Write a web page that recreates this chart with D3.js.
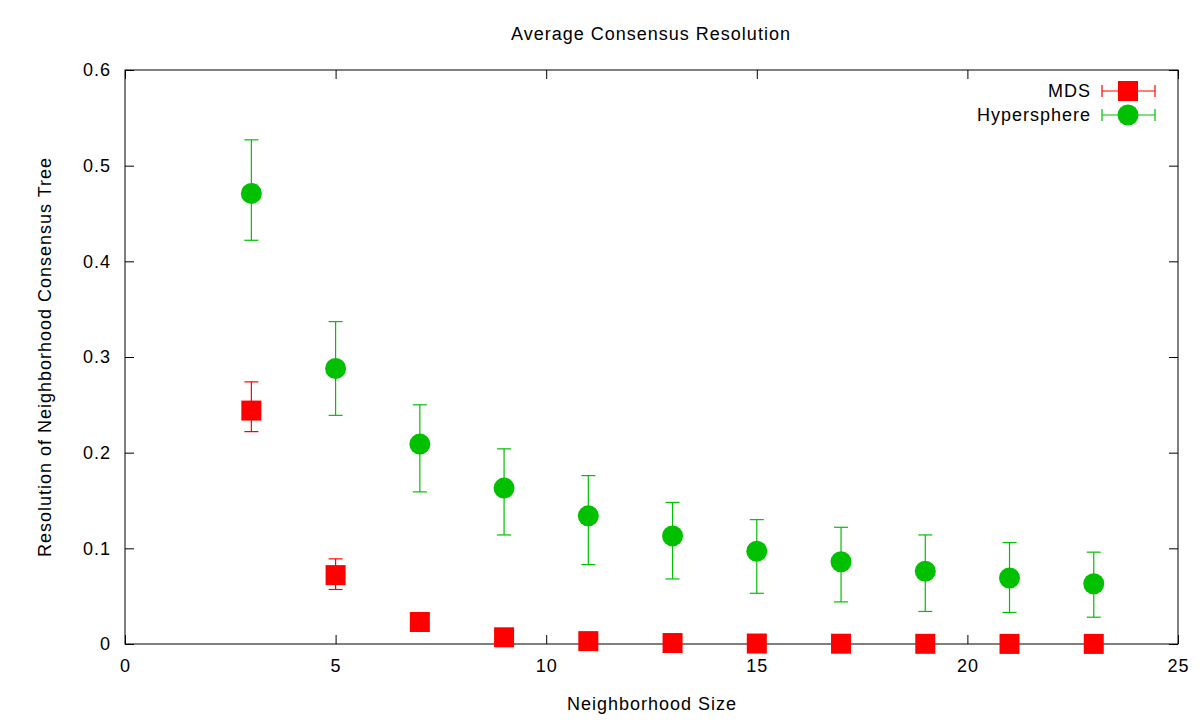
<!DOCTYPE html>
<html><head><meta charset="utf-8">
<script src="https://cdn.jsdelivr.net/npm/d3@7"></script>
<style>body{margin:0;background:#fff}svg{display:block;font-family:"Liberation Sans",Arial,sans-serif}text{letter-spacing:1px}</style>
</head><body>
<svg id="c" width="1200" height="720"></svg>
<script>
const sizes = [3,5,7,9,11,13,15,17,19,21,23];
const mdsMean = [0.244,0.072,0.023,0.007,0.003,0.001,0.0005,0.0003,0.0002,0.0001,0.0001];
const mdsLow  = [0.222,0.057,0.019,0.005,0.002,0.0005,0.0002,0.0001,0.0001,0.0,0.0];
const mdsHigh = [0.274,0.089,0.028,0.009,0.004,0.0015,0.0008,0.0005,0.0003,0.0002,0.0002];
const hypMean = [0.471,0.288,0.209,0.163,0.134,0.113,0.097,0.086,0.076,0.069,0.063];
const hypLow  = [0.422,0.239,0.159,0.114,0.083,0.068,0.053,0.044,0.034,0.033,0.028];
const hypHigh = [0.527,0.337,0.250,0.204,0.176,0.148,0.130,0.122,0.114,0.106,0.096];
const xTicks = [0,5,10,15,20,25];
const yTicks = [0,0.1,0.2,0.3,0.4,0.5,0.6];

const svg = d3.select("#c");
const L=125,R=1178,T=70,B=644;
const x = d3.scaleLinear().domain([0,25]).range([L,R]);
const y = d3.scaleLinear().domain([0,0.6]).range([B,T]);
const FS=18;

// frame
svg.append("rect").attr("x",L).attr("y",T).attr("width",R-L).attr("height",B-T)
  .attr("fill","none").attr("stroke","#000").attr("stroke-width",1);

// axes with inward ticks
const tl=9;
svg.append("g").attr("transform",`translate(0,${B})`)
  .call(d3.axisBottom(x).tickValues(xTicks).tickFormat(d3.format("d")).tickSizeInner(-tl).tickSizeOuter(0).tickPadding(15))
  .call(g=>g.select(".domain").remove());
svg.append("g").attr("transform",`translate(0,${T})`)
  .call(d3.axisTop(x).tickValues(xTicks).tickFormat("").tickSizeInner(-tl).tickSizeOuter(0))
  .call(g=>g.select(".domain").remove());
svg.append("g").attr("transform",`translate(${L},0)`)
  .call(d3.axisLeft(y).tickValues(yTicks).tickFormat(d=>d===0?"0":d3.format(".1f")(d)).tickSizeInner(-tl).tickSizeOuter(0).tickPadding(14))
  .call(g=>g.select(".domain").remove());
svg.append("g").attr("transform",`translate(${R},0)`)
  .call(d3.axisRight(y).tickValues(yTicks).tickFormat("").tickSizeInner(-tl).tickSizeOuter(0))
  .call(g=>g.select(".domain").remove());
svg.selectAll(".tick text").attr("font-size",FS).attr("fill","#000").attr("font-family","Liberation Sans, Arial, sans-serif");
svg.selectAll(".tick line").attr("stroke","#000");

// titles
svg.append("text").attr("x",651).attr("y",40).attr("text-anchor","middle").attr("font-size",FS).text("Average Consensus Resolution");
svg.append("text").attr("x",652).attr("y",710).attr("text-anchor","middle").attr("font-size",FS).text("Neighborhood Size");
svg.append("text").attr("transform",`translate(51,${(T+B)/2}) rotate(-90)`).attr("text-anchor","middle").attr("font-size",FS).text("Resolution of Neighborhood Consensus Tree");

const cap=7;
function errbars(mean,low,high,color){
  const g=svg.append("g").attr("stroke",color).attr("stroke-width",1.2);
  sizes.forEach((s,i)=>{
    const cx=x(s);
    g.append("line").attr("x1",cx).attr("x2",cx).attr("y1",y(low[i])).attr("y2",y(high[i]));
    g.append("line").attr("x1",cx-cap).attr("x2",cx+cap).attr("y1",y(low[i])).attr("y2",y(low[i]));
    g.append("line").attr("x1",cx-cap).attr("x2",cx+cap).attr("y1",y(high[i])).attr("y2",y(high[i]));
  });
}
errbars(mdsMean,mdsLow,mdsHigh,"#ff0000");
errbars(hypMean,hypLow,hypHigh,"#00c000");

const sq=20, r=10.5;
svg.append("g").selectAll("rect").data(sizes).join("rect")
  .attr("x",(d)=>x(d)-sq/2).attr("y",(d,i)=>y(mdsMean[i])-sq/2)
  .attr("width",sq).attr("height",sq).attr("fill","#ff0000");
svg.append("g").selectAll("circle").data(sizes).join("circle")
  .attr("cx",d=>x(d)).attr("cy",(d,i)=>y(hypMean[i])).attr("r",r).attr("fill","#00c000");

// legend
const leg=[{n:"MDS",c:"#ff0000",t:"sq",y:91},{n:"Hypersphere",c:"#00c000",t:"ci",y:115}];
leg.forEach(l=>{
  svg.append("text").attr("x",1091).attr("y",l.y+6).attr("text-anchor","end").attr("font-size",FS).text(l.n);
  const g=svg.append("g").attr("stroke",l.c).attr("stroke-width",1.2);
  g.append("line").attr("x1",1102).attr("x2",1155).attr("y1",l.y).attr("y2",l.y);
  g.append("line").attr("x1",1102).attr("x2",1102).attr("y1",l.y-6).attr("y2",l.y+6);
  g.append("line").attr("x1",1155).attr("x2",1155).attr("y1",l.y-6).attr("y2",l.y+6);
  if(l.t==="sq") svg.append("rect").attr("x",1128-sq/2).attr("y",l.y-sq/2).attr("width",sq).attr("height",sq).attr("fill",l.c);
  else svg.append("circle").attr("cx",1128).attr("cy",l.y).attr("r",r).attr("fill",l.c);
});
</script>
</body></html>
